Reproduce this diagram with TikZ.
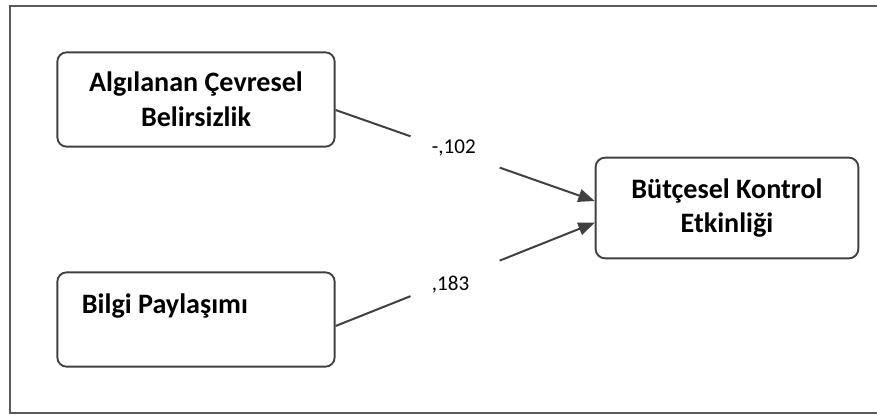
\documentclass[tikz,border=0pt]{standalone}
\usepackage{fontspec}
\setmainfont{Carlito}
\usetikzlibrary{arrows.meta,calc}
\definecolor{edge}{HTML}{404040}
\definecolor{frame}{HTML}{5A5A5A}
\begin{document}
\begin{tikzpicture}[x=0.03cm,y=-0.03cm,
  box/.style={draw=edge, line width=1.6pt, rounded corners=8, fill=white,
    inner sep=0pt, align=center, font=\fontsize{24}{29.5}\selectfont\bfseries},
  conn/.style={draw=edge, line width=1.7pt},
  tip/.style={-{Triangle[length=14pt,width=11pt]}},
  lab/.style={inner sep=0pt, anchor=base west, font=\fontsize{18}{22}\selectfont}]
\useasboundingbox (0,0) rectangle (877,414);
% open frame
\draw[frame, line width=1.7pt] (877,6) -- (10,6) -- (10,412.5) -- (877,412.5);
% boxes
\node[box, minimum width=8.32cm, minimum height=2.83cm] (b1) at (196,99.5)
  {Algılanan Çevresel\\Belirsizlik};
\node[box, minimum width=8.32cm, minimum height=2.83cm] (b2) at (196,319.5) {};
\node[inner sep=0pt, anchor=base west, font=\fontsize{24}{29.5}\selectfont\bfseries]
  (t2) at (81.7,313.3) {Bilgi Paylaşımı};
\node[box, minimum width=7.88cm, minimum height=3.02cm] (b3) at (727,208)
  {Bütçesel Kontrol\\Etkinliği};
% connectors
\coordinate (s1) at (b1.east |- 0,110);
\coordinate (e1) at (b3.west |- 0,201);
\coordinate (s2) at (b2.east |- 0,326);
\coordinate (e2) at (b3.west |- 0,222.7);
\draw[conn] (s1) -- ($(s1)!0.289!(e1)$);
\draw[conn,tip] ($(s1)!0.633!(e1)$) -- (e1);
\draw[conn] (s2) -- ($(s2)!0.289!(e2)$);
\draw[conn,tip] ($(s2)!0.633!(e2)$) -- (e2);
% labels
\node[lab] (l1) at (431.7,153.3) {-,102};
\node[lab] (l2) at (431.7,290) {,183};
\end{tikzpicture}
\end{document}
